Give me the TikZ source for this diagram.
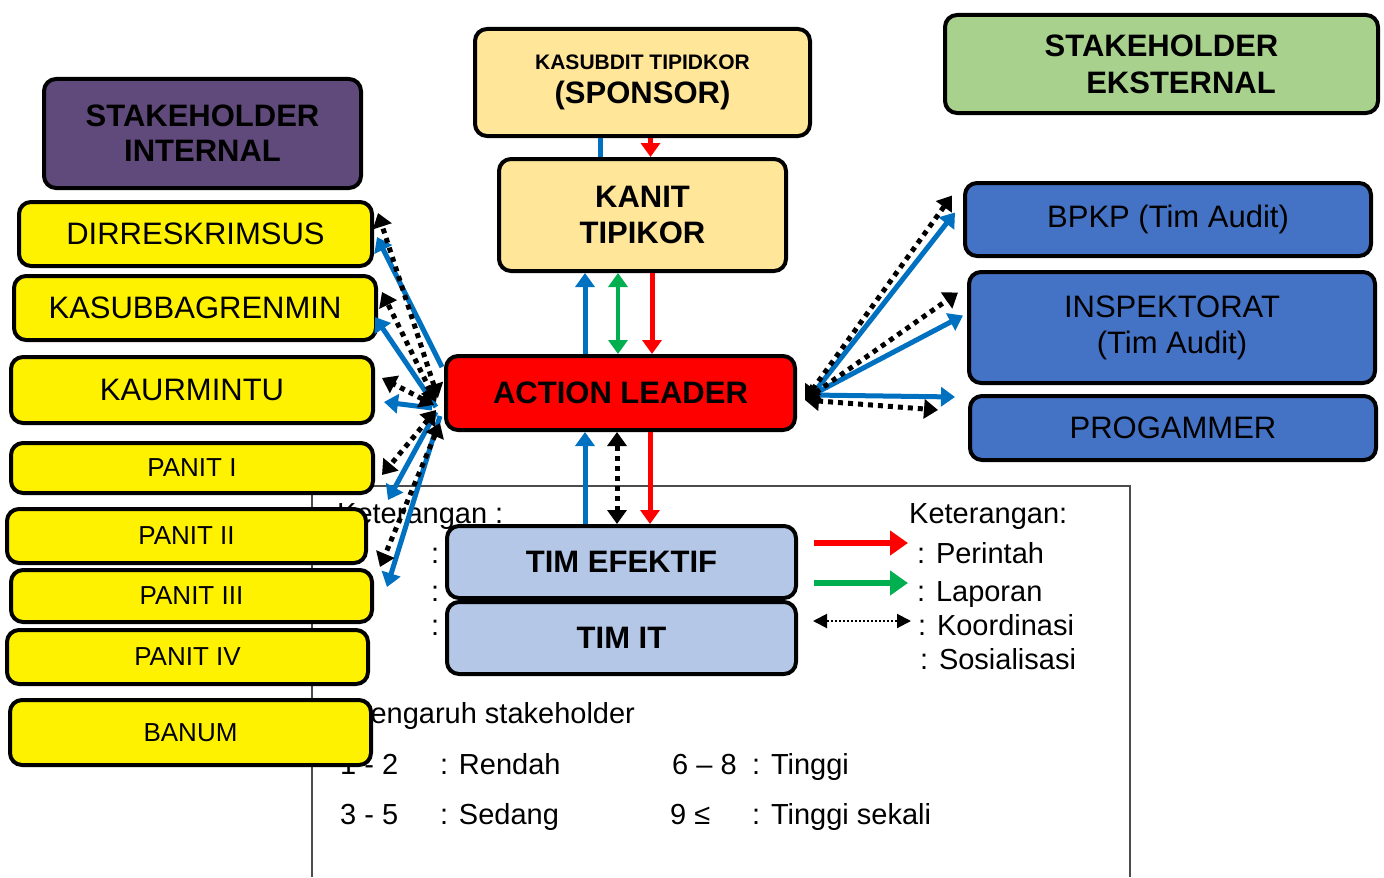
\documentclass[tikz,border=0pt]{standalone}
\usepackage{fontspec}
\setmainfont{Liberation Sans}
\usetikzlibrary{arrows.meta,calc}
\definecolor{intpurple}{RGB}{96,74,123}
\definecolor{sponsorbg}{RGB}{255,230,153}
\definecolor{extgreen}{RGB}{169,209,142}
\definecolor{extblue}{RGB}{68,114,196}
\definecolor{timblue}{RGB}{180,199,231}
\definecolor{arrblue}{RGB}{0,112,192}
\definecolor{arrgreen}{RGB}{0,176,80}
\newcommand{\boxfont}{\fontsize{31}{36}\selectfont}
\newcommand{\panitfont}{\fontsize{26}{30}\selectfont}
\newcommand{\notefont}{\fontsize{29}{34}\selectfont}
\begin{document}
\begin{tikzpicture}[x=1pt, y=-1pt,
  >={Triangle[length=14pt,width=19pt]},
  box/.style={draw=black, line width=4pt, rounded corners=12pt, align=center, inner sep=0pt},
  boldbox/.style={box, font=\boxfont\bfseries},
  bluebox/.style={box, fill=extblue, font=\boxfont},
  yelbox/.style={box, fill=yellow, font=\boxfont},
  panitbox/.style={box, fill=yellow, font=\panitfont},
  note/.style={font=\notefont, inner sep=0pt, anchor=base west},
  bluearr/.style={draw=arrblue, line width=5pt, ->},
  redarr/.style={draw=red, line width=5pt, ->},
  greenarr/.style={draw=arrgreen, line width=4pt, <->},
  dotarr/.style={draw=black, line width=5pt, dash pattern=on 5pt off 5pt, <->}]
  \fill[white] (0,0) rectangle (1384,877);
  \draw[gray!60!black, line width=1.5pt] (312,877) |- (1130,486) -- (1130,877);

  \node[note] (kt1) at (337,523) {Keterangan :};
  \node[note] (c1) at (431,563) {:};
  \node[note] (c2) at (431,601) {:};
  \node[note] (c3) at (431,635) {:};
  \node[note] (pgr) at (351,723) {Pengaruh stakeholder};
  \node[note] (r1a) at (340,774) {1 - 2};
  \node[note] (r1b) at (440,774) {: Rendah};
  \node[note] (r1c) at (672,774) {6 – 8};
  \node[note] (r1d) at (752,774) {: Tinggi};
  \node[note] (r2a) at (340,824) {3 - 5};
  \node[note] (r2b) at (440,824) {: Sedang};
  \node[note] (r2c) at (670,824) {9 ≤};
  \node[note] (r2d) at (752,824) {: Tinggi sekali};

  \node[note] (kt2) at (909,523) {Keterangan:};
  \node[note] (perintah) at (917,563) {: Perintah};
  \node[note] (laporan) at (917,601) {: Laporan};
  \node[note] (koord) at (918,635) {: Koordinasi};
  \node[note] (sosial) at (920,669) {: Sosialisasi};
  \coordinate (lgr1) at (814,543);
  \coordinate (lgr2) at (908,543);
  \coordinate (lgg1) at (814,583);
  \coordinate (lgg2) at (908,583);
  \coordinate (lgd1) at (813,621);
  \coordinate (lgd2) at (911,621);
  \draw[red, line width=6pt, -{Triangle[length=18pt,width=24pt]}] (lgr1) -- (lgr2);
  \draw[arrgreen, line width=6pt, -{Triangle[length=18pt,width=24pt]}] (lgg1) -- (lgg2);
  \draw[black, line width=2pt, dash pattern=on 2pt off 2pt, {Triangle[length=14pt,width=14pt]}-{Triangle[length=14pt,width=14pt]}] (lgd1) -- (lgd2);

  \node[boldbox, fill=intpurple, minimum width=317pt, minimum height=109pt] (intl) at (202.5,133.5) {STAKEHOLDER\\[-1pt]INTERNAL};
  \node[boldbox, fill=sponsorbg, minimum width=335pt, minimum height=107pt] (spon) at (642.5,82.5) {{\fontsize{21}{24}\selectfont KASUBDIT TIPIDKOR}\\[-2pt](SPONSOR)};
  \node[boldbox, fill=sponsorbg, minimum width=287pt, minimum height=112pt] (kanit) at (642.5,215) {KANIT\\TIPIKOR};
  \node[boldbox, fill=extgreen, minimum width=433pt, minimum height=98pt] (ext) at (1161.5,64) {STAKEHOLDER\\[1pt]\hspace*{39pt}EKSTERNAL};
  \node[boldbox, fill=red, minimum width=349pt, minimum height=74pt] (al) at (620.5,393) {ACTION LEADER};
  \node[boldbox, fill=timblue, minimum width=349pt, minimum height=72pt] (eff) at (621.5,562) {TIM EFEKTIF};
  \node[boldbox, fill=timblue, minimum width=349pt, minimum height=72pt] (timit) at (621.5,638) {TIM IT};

  \node[bluebox, minimum width=406pt, minimum height=73pt] (bpkp) at (1168,219.5) {BPKP (Tim Audit)};
  \node[bluebox, minimum width=406pt, minimum height=111pt] (insp) at (1172,327.5) {INSPEKTORAT\\(Tim Audit)};
  \node[bluebox, minimum width=406pt, minimum height=64pt] (prog) at (1173,428) {PROGAMMER};

  \node[yelbox, minimum width=353pt, minimum height=64pt] (dir) at (195.5,234) {DIRRESKRIMSUS};
  \node[yelbox, minimum width=362pt, minimum height=64pt] (kas) at (195,308) {KASUBBAGRENMIN};
  \node[yelbox, minimum width=362pt, minimum height=66pt] (kaur) at (192,390) {KAURMINTU};
  \node[panitbox, minimum width=362pt, minimum height=50pt] (p1) at (192,468) {PANIT I};
  \node[panitbox, minimum width=359pt, minimum height=54pt] (p2) at (186.5,536) {PANIT II};
  \node[panitbox, minimum width=361pt, minimum height=52pt] (p3) at (191.5,596) {PANIT III};
  \node[panitbox, minimum width=361pt, minimum height=54pt] (p4) at (187.5,657) {PANIT IV};
  \node[panitbox, minimum width=361pt, minimum height=65pt] (banum) at (190.5,732.5) {BANUM};

  \draw[arrblue, line width=5pt] ($(kanit.north)+(-42,0)$) -- ($(spon.south)+(-42,0)$);
  \draw[redarr] ($(spon.south)+(8,0)$) -- ($(kanit.north)+(8,0)$);
  \draw[bluearr] ($(al.north)+(-35.5,0)$) -- ($(kanit.south)+(-57.5,0)$);
  \draw[greenarr] ($(al.north)+(-2.5,0)$) -- ($(kanit.south)+(-24.5,0)$);
  \draw[redarr] ($(kanit.south)+(9.5,0)$) -- ($(al.north)+(31.5,0)$);
  \draw[bluearr] ($(eff.north)+(-36.5,0)$) -- ($(al.south)+(-35.5,0)$);
  \draw[dotarr] ($(eff.north)+(-4.5,0)$) -- ($(al.south)+(-3.5,0)$);
  \draw[redarr] ($(al.south)+(29.5,0)$) -- ($(eff.north)+(28.5,0)$);

  \draw[bluearr] ($(al.west)+(-2,-26)$) -- ($(dir.east)+(3,3)$);
  \draw[bluearr] ($(al.west)+(-8,14)$) -- ($(kas.east)+(-3,9)$);
  \draw[bluearr] ($(al.west)+(-12,15)$) -- ($(kaur.east)+(9,12)$);
  \draw[bluearr] ($(al.west)+(-8,19)$) -- ($(p1.east)+(13,32)$);
  \draw[bluearr] ($(al.west)+(-4,23)$) -- ($(p3.east)+(13,-9)$);
  \draw[dotarr] ($(al.west)+(-6,5)$) -- ($(dir.east)+(4,-21)$);
  \draw[dotarr] ($(al.west)+(-8,9)$) -- ($(kas.east)+(4,-16)$);
  \draw[dotarr] ($(al.west)+(-10,12)$) -- ($(kaur.east)+(7,-12)$);
  \draw[dotarr] ($(al.west)+(-8,17)$) -- ($(p1.east)+(7,7)$);
  \draw[dotarr] ($(al.west)+(-4,30)$) -- ($(p2.east)+(12,31)$);

  \draw[bluearr] ($(al.east)+(15,2)$) -- ($(bpkp.west)+(-8,-7)$);
  \draw[bluearr] ($(al.east)+(15,2)$) -- ($(insp.west)+(-4,-12)$);
  \draw[bluearr] ($(al.east)+(15,2)$) -- ($(prog.west)+(-13,-31)$);
  \draw[dotarr] ($(al.east)+(8,7)$) -- ($(bpkp.west)+(-11,-24)$);
  \draw[dotarr] ($(al.east)+(8,7)$) -- ($(insp.west)+(-9,-35)$);
  \draw[dotarr] ($(al.east)+(8,7)$) -- ($(prog.west)+(-30,-18)$);
\end{tikzpicture}
\end{document}
